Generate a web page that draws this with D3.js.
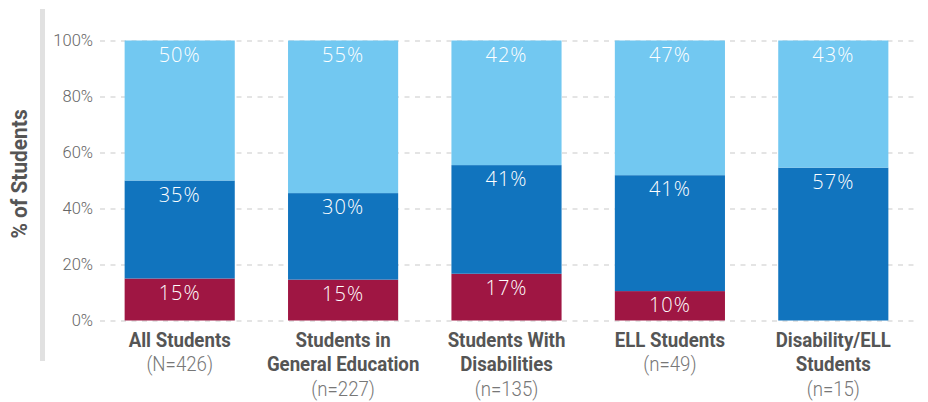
<!DOCTYPE html>
<html>
<head>
<meta charset="utf-8">
<script src="https://cdn.jsdelivr.net/npm/d3@7"></script>
<style>
  body { margin: 0; background: #fff; }
  svg { display: block; }
</style>
</head>
<body>
<div id="chart"></div>
<script>
// values (segment heights, % of students)
const categories = ['All Students', 'Students in General Education', 'Students With Disabilities', 'ELL Students', 'Disability/ELL Students'];
const categoryLines = [['All Students'], ['Students in', 'General Education'], ['Students With', 'Disabilities'], ['ELL Students'], ['Disability/ELL', 'Students']];
const sampleSizes = ['(N=426)', '(n=227)', '(n=135)', '(n=49)', '(n=15)'];

const bottomValues = [15, 14.6, 16.7, 10.5, 0];
const middleValues = [35, 30.9, 38.8, 41.4, 54.6];
const topValues = [50, 54.5, 44.5, 48.1, 45.4];

const bottomLabels = ['15%', '15%', '17%', '10%', ''];
const middleLabels = ['35%', '30%', '41%', '41%', '57%'];
const topLabels = ['50%', '55%', '42%', '47%', '43%'];

const yTicks = [0, 20, 40, 60, 80, 100];

document.addEventListener('DOMContentLoaded', () => {
  drawChart();
});

const narrow = 'Roboto, "DejaVu Sans Condensed", sans-serif';
const squeeze = 0.91;

const drawChart = () => {
  const dimension = {width: 928, height: 402};
  const margin = {top: 40.5, bottom: 81.5, left: 98, right: 10};

  const keys = ['bottom', 'middle', 'top'];
  const colors = {bottom: '#9f1643', middle: '#1174be', top: '#72c8f1'};
  const labels = {bottom: bottomLabels, middle: middleLabels, top: topLabels};

  const data = categories.map((c, i) => ({
    category: c,
    bottom: bottomValues[i],
    middle: middleValues[i],
    top: topValues[i]
  }));

  const series = d3.stack().keys(keys)(data);

  const svg = d3.select('#chart')
    .append('svg')
    .attr('width', dimension.width)
    .attr('height', dimension.height);

  const xScale = d3.scaleBand()
    .domain(categories)
    .range([margin.left, 915])
    .paddingInner(0.326)
    .paddingOuter(0.163);

  const yScale = d3.scaleLinear()
    .domain([0, 100])
    .range([dimension.height - margin.bottom, margin.top]);

  // left gray rule
  svg.append('rect')
    .attr('x', 40)
    .attr('y', 9)
    .attr('width', 5)
    .attr('height', 352)
    .attr('fill', '#e1e1e1');

  // y axis with dashed gridlines
  const yAxis = svg.append('g')
    .attr('id', 'y-axis')
    .attr('transform', `translate(${margin.left + 2}, 0)`)
    .call(d3.axisLeft(yScale)
      .tickValues(yTicks)
      .tickFormat(d => d + '%')
      .tickSize(-(918 - margin.left - 2))
      .tickPadding(7));

  yAxis.select('.domain').remove();
  yAxis.selectAll('.tick line')
    .attr('stroke', '#c9c9c9')
    .attr('stroke-width', 1.2)
    .attr('stroke-dasharray', '5,5.5');
  yAxis.selectAll('.tick text')
    .attr('fill', '#666')
    .style('font-family', narrow)
    .style('font-weight', '300')
    .style('font-size', '16.5px');

  // y title
  svg.append('text')
    .attr('transform', 'translate(27, 174) rotate(-90) scale(0.95,1)')
    .attr('text-anchor', 'middle')
    .attr('fill', '#555')
    .style('font-family', narrow)
    .style('font-weight', 'bold')
    .style('font-size', '22px')
    .text('% of Students');

  // bars
  const groups = svg.append('g')
    .attr('id', 'bars')
    .selectAll('g')
    .data(series)
    .enter()
    .append('g')
    .attr('fill', d => colors[d.key]);

  groups.selectAll('rect')
    .data(d => d)
    .enter()
    .append('rect')
    .attr('x', d => xScale(d.data.category))
    .attr('y', d => yScale(d[1]))
    .attr('width', xScale.bandwidth())
    .attr('height', d => yScale(d[0]) - yScale(d[1]));

  // value labels
  svg.append('g')
    .attr('id', 'values')
    .selectAll('g')
    .data(series)
    .enter()
    .append('g')
    .selectAll('text')
    .data((s) => s.map((d, i) => ({d, text: labels[s.key][i]})))
    .enter()
    .append('text')
    .attr('x', v => xScale(v.d.data.category) + xScale.bandwidth() / 2)
    .attr('y', v => yScale(v.d[1]) + 21.3)
    .attr('text-anchor', 'middle')
    .attr('fill', '#fff')
    .style('font-family', '"Open Sans", Lato, sans-serif')
    .style('font-weight', '300')
    .style('font-size', '20px')
    .style('letter-spacing', '1px')
    .text(v => v.text);

  // category labels
  const cats = svg.append('g')
    .attr('id', 'x-labels')
    .selectAll('text')
    .data(categories)
    .enter()
    .append('text')
    .attr('transform', c => `translate(${xScale(c) + xScale.bandwidth() / 2}, ${yScale(0) + 26}) scale(${squeeze},1)`)
    .attr('text-anchor', 'middle')
    .attr('fill', '#555')
    .style('font-family', narrow)
    .style('font-size', '20.5px');

  cats.each(function (c, i) {
    const t = d3.select(this);
    categoryLines[i].forEach((line, j) => {
      t.append('tspan')
        .attr('x', 0)
        .attr('y', j * 25)
        .style('font-weight', 'bold')
        .text(line);
    });
    t.append('tspan')
      .attr('x', 0)
      .attr('y', categoryLines[i].length * 25)
      .attr('fill', '#777')
      .style('font-weight', '300')
      .text(sampleSizes[i]);
  });
};
</script>
</body>
</html>
